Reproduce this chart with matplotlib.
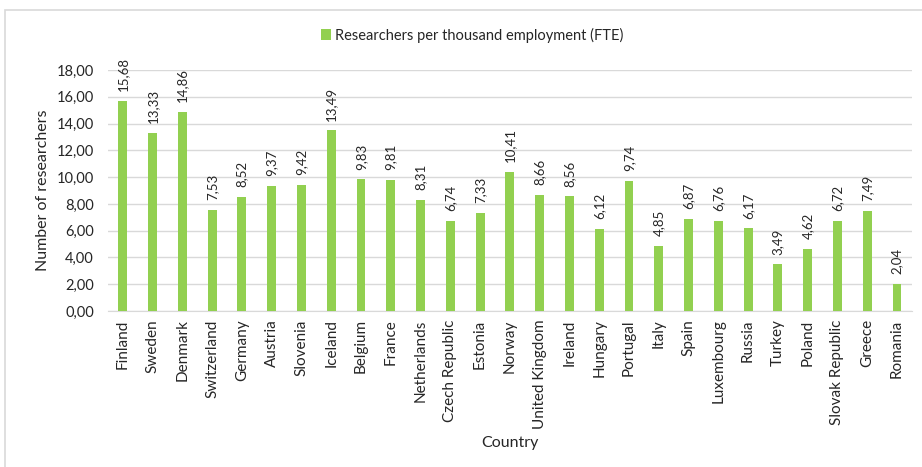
import numpy as np
import matplotlib.pyplot as plt
from matplotlib.patches import Rectangle

countries = ['Finland', 'Sweden', 'Denmark', 'Switzerland', 'Germany', 'Austria',
             'Slovenia', 'Iceland', 'Belgium', 'France', 'Netherlands', 'Czech Republic',
             'Estonia', 'Norway', 'United Kingdom', 'Ireland', 'Hungary', 'Portugal',
             'Italy', 'Spain', 'Luxembourg', 'Russia', 'Turkey', 'Poland',
             'Slovak Republic', 'Greece', 'Romania']
researchers = [15.68, 13.33, 14.86, 7.53, 8.52, 9.37, 9.42, 13.49, 9.83, 9.81, 8.31, 6.74,
               7.33, 10.41, 8.66, 8.56, 6.12, 9.74, 4.85, 6.87, 6.76, 6.17, 3.49, 4.62,
               6.72, 7.49, 2.04]
yticks = np.arange(0, 19, 2)

plt.rcParams['font.family'] = ['Lato', 'DejaVu Sans']
txt = '#262626'

fig = plt.figure(figsize=(9.22, 4.67), dpi=100)
ax = fig.add_axes([0.117, 0.334, 0.872, 0.516])

x = np.arange(len(countries))
ax.bar(x, researchers, 0.3, color='#92D050', zorder=3, label='Researchers per thousand employment (FTE)')
for xi, v in zip(x, researchers):
    ax.annotate(f'{v:.2f}'.replace('.', ','), (xi, v), xytext=(0, 7), textcoords='offset points',
                rotation=90, ha='center', va='bottom', fontsize=9.5, color=txt)

ax.set_xlim(-0.5, len(countries) - 0.5)
ax.set_ylim(0, 18)
ax.set_yticks(yticks)
ax.set_yticklabels([f'{t:.2f}'.replace('.', ',') for t in yticks], fontsize=10.5, color=txt)
ax.set_xticks(x)
ax.set_xticklabels(countries, rotation=90, fontsize=11, color=txt)
ax.tick_params(axis='y', length=0, pad=10)
ax.tick_params(axis='x', length=0, pad=6)
ax.grid(axis='y', color='#D9D9D9', linewidth=1, zorder=0)
for s in ['top', 'right', 'left']:
    ax.spines[s].set_visible(False)
ax.spines['bottom'].set_color('#D9D9D9')

ax.set_ylabel('Number of researchers', fontsize=11.5, color=txt, labelpad=5)
fig.text(0.553, 0.052, 'Country', ha='center', va='center', fontsize=11.5, color=txt)

fig.legend(loc='center', bbox_to_anchor=(0.512, 0.925), frameon=False, fontsize=10.5,
           handlelength=0.7, handleheight=0.7, handletextpad=0.3, labelcolor=txt)

fig.patches.append(Rectangle((5 / 922, -0.01), 1.0, 1 - 10 / 467 + 0.01, transform=fig.transFigure,
                             fill=False, edgecolor='#D9D9D9', linewidth=1.2))

plt.savefig('out.png', dpi=100)
